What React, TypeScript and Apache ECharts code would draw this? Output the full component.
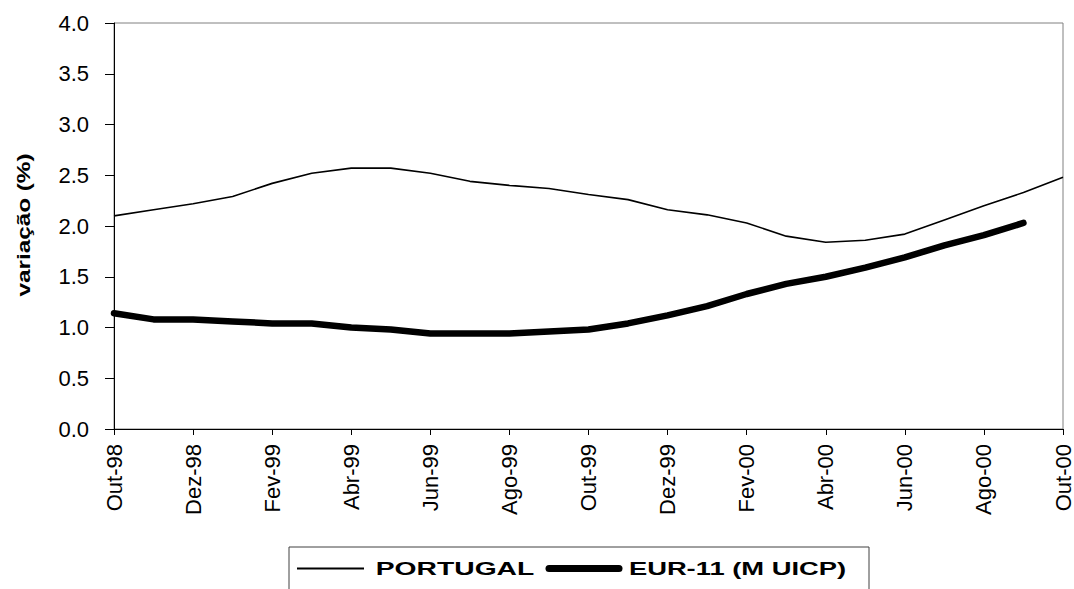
import React, { useEffect, useRef } from "react";
import * as echarts from "echarts";

const months = [
  "Out-98", "Nov-98", "Dez-98", "Jan-99", "Fev-99", "Mar-99", "Abr-99", "Mai-99", "Jun-99",
  "Jul-99", "Ago-99", "Set-99", "Out-99", "Nov-99", "Dez-99", "Jan-00", "Fev-00", "Mar-00",
  "Abr-00", "Mai-00", "Jun-00", "Jul-00", "Ago-00", "Set-00", "Out-00",
];
const portugal = [
  2.1, 2.16, 2.22, 2.29, 2.42, 2.52, 2.57, 2.57, 2.52, 2.44, 2.4, 2.37, 2.31, 2.26, 2.16, 2.11,
  2.03, 1.9, 1.84, 1.86, 1.92, 2.06, 2.2, 2.33, 2.48,
];
const eur11 = [
  1.14, 1.08, 1.08, 1.06, 1.04, 1.04, 1.0, 0.98, 0.94, 0.94, 0.94, 0.96, 0.98, 1.04, 1.12, 1.21,
  1.33, 1.43, 1.5, 1.59, 1.69, 1.81, 1.91, 2.03, null,
];
const seriesNames = ["PORTUGAL", "EUR-11 (M UICP)"];
const yTitle = "variação (%)";

const FONT = "'Liberation Sans', Arial, sans-serif";

export default function App() {
  const ref = useRef<HTMLDivElement>(null);
  useEffect(() => {
    if (!ref.current) return;
    const chart = echarts.init(ref.current, undefined, { renderer: "svg" });
    chart.setOption({
      animation: false,
      backgroundColor: "#ffffff",
      grid: {
        left: 114,
        right: 8,
        top: 23,
        bottom: 160,
        show: true,
        borderColor: "#808080",
        borderWidth: 1,
        containLabel: false,
      },
      xAxis: {
        type: "category",
        data: months,
        boundaryGap: false,
        axisLine: { lineStyle: { color: "#000", width: 1 } },
        axisTick: { interval: 1, length: 6, lineStyle: { color: "#000" } },
        axisLabel: {
          interval: 1,
          rotate: 90,
          margin: 15,
          fontSize: 22,
          fontFamily: FONT,
          color: "#000",
        },
        splitLine: { show: false },
      },
      yAxis: {
        type: "value",
        min: 0,
        max: 4,
        interval: 0.5,
        axisLine: { show: true, lineStyle: { color: "#000", width: 1 } },
        axisTick: { show: true, length: 9, lineStyle: { color: "#000" } },
        axisLabel: {
          margin: 25,
          fontSize: 22,
          fontFamily: FONT,
          color: "#000",
          formatter: (v: number) => v.toFixed(1),
        },
        splitLine: { show: false },
      },
      series: [
        {
          name: seriesNames[0],
          type: "line",
          data: portugal,
          symbol: "none",
          lineStyle: { color: "#000", width: 1.6 },
        },
        {
          name: seriesNames[1],
          type: "line",
          data: eur11,
          symbol: "none",
          lineStyle: { color: "#000", width: 6.5, cap: "round", join: "round" },
        },
      ],
      graphic: [
        {
          type: "text",
          x: 24,
          y: 225,
          rotation: Math.PI / 2,
          scaleX: 1.35,
          style: {
            text: yTitle,
            font: `bold 18px ${FONT}`,
            fill: "#000",
            align: "center",
            verticalAlign: "middle",
          },
        },
        {
          type: "rect",
          shape: { x: 289, y: 547, width: 580, height: 60 },
          style: { fill: "#fff", stroke: "#404040", lineWidth: 1 },
        },
        {
          type: "line",
          shape: { x1: 297, y1: 568.5, x2: 364, y2: 568.5 },
          style: { stroke: "#000", lineWidth: 2 },
        },
        {
          type: "text",
          x: 455,
          y: 568.5,
          scaleX: 1.57,
          style: {
            text: seriesNames[0],
            font: `bold 18px ${FONT}`,
            fill: "#000",
            align: "center",
            verticalAlign: "middle",
          },
        },
        {
          type: "line",
          shape: { x1: 549, y1: 568.5, x2: 619, y2: 568.5 },
          style: { stroke: "#000", lineWidth: 7, lineCap: "round" },
        },
        {
          type: "text",
          x: 737.5,
          y: 568.5,
          scaleX: 1.52,
          style: {
            text: seriesNames[1],
            font: `bold 18px ${FONT}`,
            fill: "#000",
            align: "center",
            verticalAlign: "middle",
          },
        },
      ],
    });
    return () => chart.dispose();
  }, []);
  return (
    <div
      ref={ref}
      style={{ position: "fixed", left: 0, top: 0, width: 1074, height: 589, background: "#fff" }}
    />
  );
}
